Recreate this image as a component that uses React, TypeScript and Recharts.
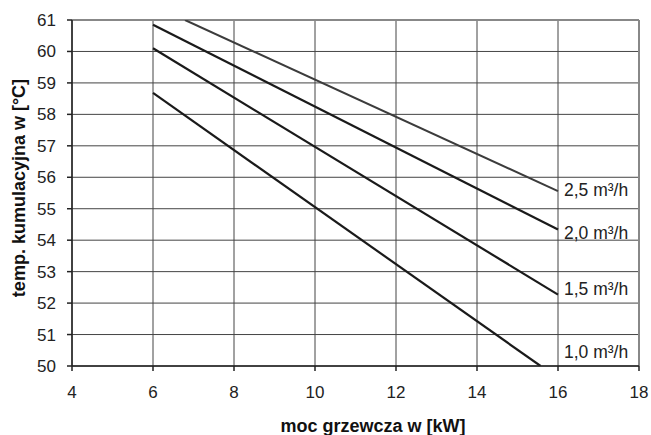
import React from 'react';
import { LineChart, Line, XAxis, YAxis, CartesianGrid, ReferenceLine, ReferenceDot, Label } from 'recharts';

// heating power [kW] vs. accumulation temperature [°C]
const series10 = [{ x: 6, y: 58.68 }, { x: 15.57, y: 50 }];
const series15 = [{ x: 6, y: 60.1 }, { x: 16, y: 52.27 }];
const series20 = [{ x: 6, y: 60.85 }, { x: 16, y: 54.34 }];
const series25 = [{ x: 6.79, y: 61 }, { x: 16, y: 55.56 }];

const seriesLabels = ['1,0 m³/h', '1,5 m³/h', '2,0 m³/h', '2,5 m³/h'];
const labelAnchorX = 16;
const labelAnchorY = [50.45, 52.47, 54.23, 55.6];

const xTicks = [4, 6, 8, 10, 12, 14, 16, 18];
const yTicks = [50, 51, 52, 53, 54, 55, 56, 57, 58, 59, 60, 61];

const xTitle = 'moc grzewcza w [kW]';
const yTitle = 'temp. kumulacyjna w [°C]';

const FONT = '"Liberation Sans", Arial, sans-serif';

export default function App() {
  return (
    <div style={{ position: 'absolute', left: 0, top: 0, background: '#fff' }}>
      <LineChart width={651} height={435} margin={{ top: 20, right: 12, bottom: 0, left: 0 }}>
        <CartesianGrid stroke="#444" strokeWidth={1} />
        <XAxis
          type="number"
          dataKey="x"
          domain={[4, 18]}
          ticks={xTicks}
          allowDataOverflow
          height={69}
          tickSize={5}
          tickMargin={15}
          stroke="#222"
          strokeWidth={1.5}
          tick={{ fill: '#222', fontSize: 17, fontFamily: FONT }}
          tickLine={{ stroke: '#222' }}
        >
          <Label
            content={() => (
              <text x={373} y={432} textAnchor="middle" fontFamily={FONT} fontSize={18} fontWeight="bold" fill="#111">
                {xTitle}
              </text>
            )}
          />
        </XAxis>
        <YAxis
          type="number"
          dataKey="y"
          domain={[50, 61]}
          ticks={yTicks}
          allowDataOverflow
          width={72}
          tickSize={5}
          tickMargin={11}
          stroke="#222"
          strokeWidth={1.5}
          tick={{ fill: '#222', fontSize: 17, fontFamily: FONT }}
          tickLine={{ stroke: '#222' }}
        >
          <Label
            content={() => (
              <text
                x={19}
                y={188}
                transform="rotate(-90 19 188)"
                textAnchor="middle"
                dominantBaseline="central"
                fontFamily={FONT}
                fontSize={18}
                fontWeight="bold"
                fill="#111"
              >
                {yTitle}
              </text>
            )}
          />
        </YAxis>
        <ReferenceLine y={61} stroke="#888" strokeWidth={2} />
        <ReferenceLine x={18} stroke="#888" strokeWidth={2} />
        <Line data={series10} dataKey="y" stroke="#1a1a1a" strokeWidth={2.2} dot={false} isAnimationActive={false} />
        <Line data={series15} dataKey="y" stroke="#1a1a1a" strokeWidth={2.2} dot={false} isAnimationActive={false} />
        <Line data={series20} dataKey="y" stroke="#1a1a1a" strokeWidth={2.2} dot={false} isAnimationActive={false} />
        <Line data={series25} dataKey="y" stroke="#3c3c3c" strokeWidth={2} dot={false} isAnimationActive={false} />
        {seriesLabels.map((txt, i) => (
          <ReferenceDot
            key={txt}
            x={labelAnchorX}
            y={labelAnchorY[i]}
            r={0}
            fill="none"
            stroke="none"
            label={{ value: txt, position: 'right', offset: 6, fill: '#222', fontSize: 17.5, fontFamily: FONT }}
          />
        ))}
      </LineChart>
    </div>
  );
}
